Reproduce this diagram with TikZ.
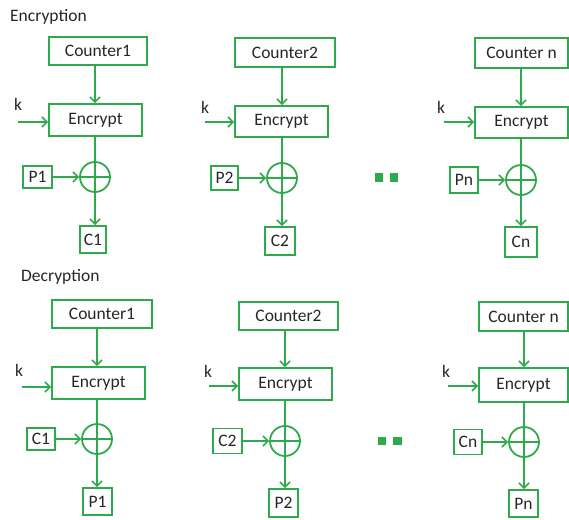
\documentclass[tikz,border=0pt]{standalone}
\usepackage{fontspec}
\setmainfont{Carlito}
\usetikzlibrary{arrows.meta}
\definecolor{ctrgreen}{RGB}{46,170,76}
\definecolor{inktext}{RGB}{38,38,38}
\begin{document}
\begin{tikzpicture}[x=1pt,y=-1pt,
  font=\fontsize{17.5}{20}\selectfont,
  text=inktext,
  wire/.style={draw=ctrgreen,line width=1.8pt},
  conn/.style={wire,-{Straight Barb[length=5pt,width=10pt,line width=1.6pt]}},
  blk/.style={draw=ctrgreen,line width=1.8pt,rectangle,inner sep=0pt},
  xorc/.style={draw=ctrgreen,line width=1.8pt,circle,minimum size=30pt,inner sep=0pt},
  lbl/.style={inner sep=0pt,anchor=west}]
\useasboundingbox (0,0) rectangle (569,519);

% ---------- Encryption ----------
\node[lbl] (enc-title) at (10,17) {Encryption};

\node[blk,minimum width=98pt,minimum height=28pt] (e1-c) at (98,51) {Counter1};
\node[blk,minimum width=93pt,minimum height=32pt] (e1-e) at (95.5,120) {Encrypt};
\node[xorc] (e1-x) at (95,177) {};
\node[blk,minimum width=29pt,minimum height=22pt] (e1-p) at (37.5,177) {P1};
\node[blk,minimum width=26pt,minimum height=27pt] (e1-o) at (93,239.5) {C1};
\coordinate (e1-k) at (18,122);
\node[lbl] (e1-kl) at (14,104) {k};

\node[blk,minimum width=100pt,minimum height=29pt] (e2-c) at (285,52.5) {Counter2};
\node[blk,minimum width=93pt,minimum height=31pt] (e2-e) at (281.5,121.5) {Encrypt};
\node[xorc] (e2-x) at (282,178) {};
\node[blk,minimum width=27pt,minimum height=24pt] (e2-p) at (224.5,178) {P2};
\node[blk,minimum width=30pt,minimum height=28pt] (e2-o) at (280,241) {C2};
\coordinate (e2-k) at (205,122);
\node[lbl] (e2-kl) at (201,107) {k};

\node[blk,minimum width=93pt,minimum height=30pt] (e3-c) at (521.5,53) {Counter n};
\node[blk,minimum width=93pt,minimum height=31pt] (e3-e) at (521.5,122.5) {Encrypt};
\node[xorc] (e3-x) at (521,180) {};
\node[blk,minimum width=28pt,minimum height=26pt] (e3-p) at (464,180) {Pn};
\node[blk,minimum width=32pt,minimum height=30pt] (e3-o) at (521,242) {Cn};
\coordinate (e3-k) at (444,122);
\node[lbl] (e3-kl) at (437,107) {k};

\fill[ctrgreen] (375,173) rectangle (383,182);
\fill[ctrgreen] (390,173) rectangle (398,182);

% ---------- Decryption ----------
\node[lbl] (dec-title) at (21,277) {Decryption};

\node[blk,minimum width=100pt,minimum height=28pt] (d1-c) at (102,314) {Counter1};
\node[blk,minimum width=93pt,minimum height=32pt] (d1-e) at (98.5,383) {Encrypt};
\node[xorc] (d1-x) at (97,439) {};
\node[blk,minimum width=28pt,minimum height=22pt] (d1-p) at (41,439) {C1};
\node[blk,minimum width=29pt,minimum height=27pt] (d1-o) at (97.5,501.5) {P1};
\coordinate (d1-k) at (22,387);
\node[lbl] (d1-kl) at (15,370) {k};

\node[blk,minimum width=99pt,minimum height=28pt] (d2-c) at (288.5,316) {Counter2};
\node[blk,minimum width=93pt,minimum height=32pt] (d2-e) at (285.5,384) {Encrypt};
\node[xorc] (d2-x) at (285,441) {};
\node[blk,minimum width=29pt,minimum height=25pt] (d2-p) at (227.5,441) {C2};
\node[blk,minimum width=29pt,minimum height=28pt] (d2-o) at (283.5,503) {P2};
\coordinate (d2-k) at (209,386);
\node[lbl] (d2-kl) at (204,371) {k};

\node[blk,minimum width=89pt,minimum height=29pt] (d3-c) at (523.5,316.5) {Counter n};
\node[blk,minimum width=89pt,minimum height=34pt] (d3-e) at (523.5,385) {Encrypt};
\node[xorc] (d3-x) at (524,442) {};
\node[blk,minimum width=28pt,minimum height=25pt] (d3-p) at (468,442) {Cn};
\node[blk,minimum width=29pt,minimum height=27pt] (d3-o) at (523.5,503.5) {Pn};
\coordinate (d3-k) at (448,386);
\node[lbl] (d3-kl) at (442,371) {k};

\fill[ctrgreen] (378,437) rectangle (386,445);
\fill[ctrgreen] (393,437) rectangle (402,445);

% ---------- connectors of every counter column ----------
\foreach \n in {e1,e2,e3,d1,d2,d3}{
  \draw[conn] (\n-x |- \n-c.south) -- (\n-x |- \n-e.north);
  \draw[conn] (\n-k) -- (\n-k -| \n-e.west);
  \draw[conn] (\n-x |- \n-e.south) -- (\n-x |- \n-o.north);
  \draw[wire] (\n-x.west) -- (\n-x.east);
  \draw[conn] (\n-p.east |- \n-x) -- (\n-x.west);
}
\end{tikzpicture}
\end{document}
